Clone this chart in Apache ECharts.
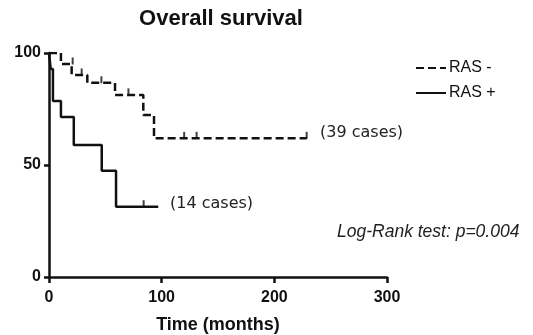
<!DOCTYPE html>
<html>
<head>
<meta charset="utf-8">
<script src="https://cdn.jsdelivr.net/npm/echarts@6/dist/echarts.min.js"></script>
<style>
  html, body { margin: 0; padding: 0; background: #fff; }
  #chart { width: 533px; height: 335px; }
</style>
</head>
<body>
<div id="chart"></div>
<script>
// Kaplan-Meier steps: [months, % surviving]
const rasNeg = [[0, 100], [10.6, 95.1], [20.1, 90.2], [34, 86.7], [58.6, 81.3], [83.7, 72.3], [93.2, 61.9], [228.7, 61.9]]
const rasPos = [[0, 100], [1.5, 92.9], [3.5, 78.6], [10.6, 71.4], [22, 58.9], [46.8, 47.4], [59.5, 31.4], [97, 31.4]]

// censored observations (tick marks)
const rasNegCensor = [[21, 95.1], [29, 90.2], [46.5, 86.7], [70.5, 81.3], [120, 61.9], [131, 61.9], [228.7, 61.9]]
const rasPosCensor = [[84, 31.4]]

const xTicks = [0, 100, 200, 300]
const yTicks = [0, 50, 100]

const chart = echarts.init(document.getElementById('chart'))

const ink = '#111'
const font = 'Liberation Sans, Arial, sans-serif'
const noteFont = 'DejaVu Sans, Verdana, sans-serif'

const censorSeries = (data) => ({
  type: 'scatter',
  data: data,
  symbol: 'rect',
  symbolSize: [2, 7],
  symbolOffset: [0, -3],
  itemStyle: { color: ink },
  silent: true,
  z: 3
})

chart.setOption({
  animation: false,
  title: {
    text: 'Overall survival',
    left: 216,
    top: 3,
    textAlign: 'center',
    textStyle: { fontFamily: font, fontWeight: 'bold', fontSize: 22, color: ink }
  },
  legend: {
    data: ['RAS -', 'RAS +'],
    orient: 'vertical',
    left: 410,
    top: 55,
    itemWidth: 30,
    itemHeight: 12,
    itemGap: 9,
    itemStyle: { opacity: 0 },
    textStyle: { fontFamily: font, fontSize: 16, color: ink, padding: [0, 0, 0, -2] }
  },
  grid: { left: 49, right: 146, top: 53, bottom: 58, outerBoundsMode: 'none' },
  xAxis: {
    type: 'value',
    min: xTicks[0],
    max: xTicks[xTicks.length - 1],
    interval: 100,
    name: 'Time (months)',
    nameLocation: 'middle',
    nameGap: 39,
    nameTextStyle: { fontFamily: font, fontWeight: 'bold', fontSize: 18, color: ink },
    splitLine: { show: false },
    axisLine: { lineStyle: { color: ink, width: 2.5 } },
    axisTick: { show: true, length: 6, lineStyle: { color: ink, width: 2.5 } },
    axisLabel: { fontFamily: font, fontWeight: 'bold', fontSize: 16, color: ink, margin: 13 }
  },
  yAxis: {
    type: 'value',
    min: yTicks[0],
    max: yTicks[yTicks.length - 1],
    interval: 50,
    splitLine: { show: false },
    axisLine: { show: true, lineStyle: { color: ink, width: 2.5 } },
    axisTick: { show: true, length: 5, lineStyle: { color: ink, width: 2.5 } },
    axisLabel: { fontFamily: font, fontWeight: 'bold', fontSize: 16, color: ink, margin: 8 }
  },
  series: [
    {
      name: 'RAS -',
      type: 'line',
      step: 'end',
      data: rasNeg,
      symbol: 'none',
      lineStyle: { color: ink, width: 2.5, type: [8, 4] },
      itemStyle: { color: ink },
      z: 2
    },
    {
      name: 'RAS +',
      type: 'line',
      step: 'end',
      data: rasPos,
      symbol: 'none',
      lineStyle: { color: ink, width: 2.5 },
      itemStyle: { color: ink },
      z: 2
    },
    censorSeries(rasNegCensor),
    censorSeries(rasPosCensor)
  ],
  graphic: [
    {
      type: 'text', left: 320, top: 125,
      style: { text: '(39 cases)', fontFamily: noteFont, fontSize: 16, fill: '#222' }
    },
    {
      type: 'text', left: 170, top: 196,
      style: { text: '(14 cases)', fontFamily: noteFont, fontSize: 16, fill: '#222' }
    },
    {
      type: 'text', left: 337, top: 223,
      style: { text: 'Log-Rank test: p=0.004', fontFamily: font, fontStyle: 'italic', fontSize: 17.5, fill: '#222' }
    }
  ]
})
</script>
</body>
</html>
